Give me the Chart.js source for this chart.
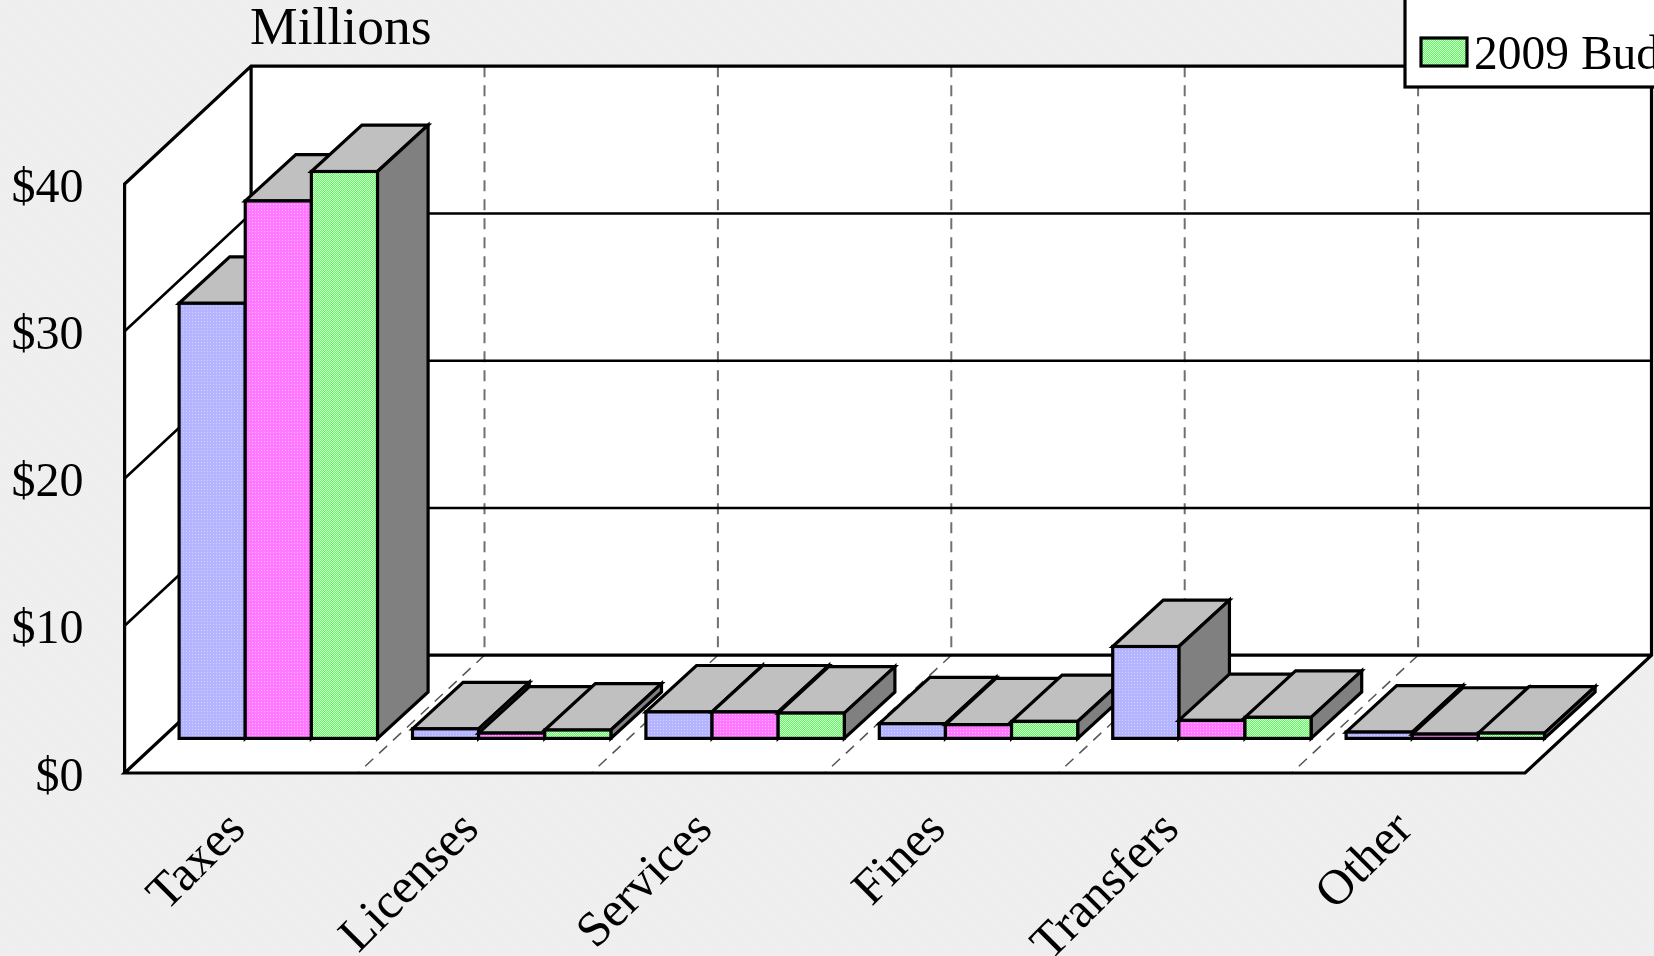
<!DOCTYPE html>
<html><head><meta charset="utf-8">
<style>html,body{margin:0;padding:0;background:#eeeeee;overflow:hidden}canvas{display:block}</style>
<script src="https://cdn.jsdelivr.net/npm/chart.js@4"></script>
</head><body><canvas id="c" width="1654" height="956"></canvas>
<script>
const categories = ["Taxes","Licenses","Services","Fines","Transfers","Other"];
const series1 = [29.55,0.65,1.8,1.0,6.24,0.43];
const series2 = [36.5,0.36,1.8,0.93,1.22,0.29];
const series3 = [38.5,0.57,1.72,1.15,1.43,0.36];
const seriesNames = ["2007 Actual","2008 Budget","2009 Budget"];
const yTicks = [0,10,20,30,40];
const yTickLabels = ["$0","$10","$20","$30","$40"];
const yAxisTitle = "Millions";

function dither(base,dot,size,cells){
  const c=document.createElement('canvas');c.width=c.height=size;
  const x=c.getContext('2d');x.fillStyle=base;x.fillRect(0,0,size,size);
  x.fillStyle=dot;cells.forEach(p=>x.fillRect(p[0],p[1],1,1));
  return x.createPattern(c,'repeat');
}
const bgFill=dither('#ececec','#f4f4f4',3,[[0,0],[1,1],[2,2]]);
const fills=[
  dither('#b4b4ff','#d0d0ff',3,[[0,0]]),
  dither('#ff78ff','#ffb8ff',3,[[0,0]]),
  dither('#58ff58','#d8ffd8',2,[[0,0],[1,1]])
];
const SERIF='"Liberation Serif","Times New Roman",serif';
// depth geometry (pixels)
const frontDX=-37, frontDY=34.6, backDX=89.5, backDY=-83.2, barDX=50.6, barDY=-46.4;

const chart3d={
  id:'chart3d',
  beforeDraw(chart){
    const c=chart.ctx;c.save();c.fillStyle=bgFill;c.fillRect(0,0,chart.width,chart.height);c.restore();
  },
  beforeDatasetsDraw(chart){
    const c=chart.ctx,xs=chart.scales.x,ys=chart.scales.y,a=chart.chartArea;
    const y0=ys.getPixelForValue(0),yT=ys.getPixelForValue(yTicks[yTicks.length-1]);
    const L=a.left,R=a.right;
    const catW=(R-L)/categories.length;
    c.save();c.lineJoin='miter';c.lineCap='butt';
    const poly=(pts)=>{c.beginPath();pts.forEach((p,i)=>i?c.lineTo(p[0],p[1]):c.moveTo(p[0],p[1]));c.closePath();};
    c.fillStyle='#fff';
    poly([[L+backDX,yT+backDY],[R+backDX,yT+backDY],[R+backDX,y0+backDY],[L+backDX,y0+backDY]]);c.fill();
    poly([[L+frontDX,yT+frontDY],[L+backDX,yT+backDY],[L+backDX,y0+backDY],[L+frontDX,y0+frontDY]]);c.fill();
    poly([[L+frontDX,y0+frontDY],[R+frontDX,y0+frontDY],[R+backDX,y0+backDY],[L+backDX,y0+backDY]]);c.fill();
    // category dashes
    for(let i=1;i<categories.length;i++){
      const x=xs.getPixelForValue(i)-catW/2;
      c.setLineDash([11,8]);
      c.strokeStyle='#707070';c.lineWidth=2;
      c.beginPath();c.moveTo(x+backDX,yT+backDY);c.lineTo(x+backDX,y0+backDY);c.stroke();
      c.strokeStyle='#555555';c.lineWidth=1.5;
      c.beginPath();c.moveTo(x+backDX,y0+backDY);c.lineTo(x+frontDX,y0+frontDY);c.stroke();
    }
    c.setLineDash([]);
    // value gridlines
    c.strokeStyle='#000';c.lineWidth=2.6;
    yTicks.forEach(v=>{
      if(v===0||v===yTicks[yTicks.length-1])return;
      const y=ys.getPixelForValue(v);
      c.beginPath();c.moveTo(L+frontDX,y+frontDY);c.lineTo(L+backDX,y+backDY);c.lineTo(R+backDX,y+backDY);c.stroke();
    });
    // outlines
    c.lineWidth=3.2;
    c.beginPath();c.moveTo(L+frontDX,y0+frontDY);c.lineTo(L+frontDX,yT+frontDY);c.lineTo(L+backDX,yT+backDY);
    c.lineTo(R+backDX,yT+backDY);c.lineTo(R+backDX,y0+backDY);c.lineTo(R+frontDX,y0+frontDY);c.lineTo(L+frontDX,y0+frontDY);
    c.lineTo(L+backDX,y0+backDY);c.lineTo(R+backDX,y0+backDY);
    c.moveTo(L+backDX,yT+backDY);c.lineTo(L+backDX,y0+backDY);c.stroke();
    // bars left to right
    const metas=chart.getSortedVisibleDatasetMetas().slice().sort((p,q)=>p.index-q.index);
    categories.forEach((_,i)=>{
      metas.forEach(m=>{
        const el=m.data[i],l=el.x-el.width/2,r=el.x+el.width/2,t=el.y,b=el.base;
        c.lineWidth=3.2;c.strokeStyle='#000';c.lineJoin='miter';
        poly([[l,t],[l+barDX,t+barDY],[r+barDX,t+barDY],[r,t]]);c.fillStyle='#c0c0c0';c.fill();c.stroke();
        poly([[r,t],[r+barDX,t+barDY],[r+barDX,b+barDY],[r,b]]);c.fillStyle='#808080';c.fill();c.stroke();
        el.draw(c);
        c.strokeRect(l,t,r-l,b-t);
      });
    });
    c.restore();
  },
  beforeDatasetDraw(){return false;},
  afterDraw(chart){
    const c=chart.ctx,xs=chart.scales.x,ys=chart.scales.y,a=chart.chartArea;
    c.save();c.fillStyle='#000';
    // y labels
    c.font='48px '+SERIF;c.textAlign='right';c.textBaseline='alphabetic';
    yTicks.forEach((v,i)=>c.fillText(yTickLabels[i],83.5,ys.getPixelForValue(v)+frontDY+17.5));
    // title
    c.textAlign='left';c.font='53.5px '+SERIF;
    c.fillText(yAxisTitle,a.left+backDX-1,44);
    // x labels
    c.font='49.5px '+SERIF;c.textAlign='right';c.textBaseline='middle';
    categories.forEach((t,i)=>{
      c.save();c.translate(xs.getPixelForValue(i)+frontDX-3,822);c.rotate(-Math.PI/4);c.fillText(t,0,0);c.restore();
    });
    // legend (box runs past the top and right edges of the picture)
    c.fillStyle='#fff';c.strokeStyle='#000';c.lineWidth=3.2;
    c.fillRect(1405,-10,300,97);c.strokeRect(1405,-10,300,97);
    c.fillStyle=fills[2];c.fillRect(1421,38,46,28);c.strokeRect(1421,38,46,28);
    c.fillStyle='#000';c.font='47.5px '+SERIF;c.textAlign='left';c.textBaseline='alphabetic';
    c.fillText(seriesNames[2],1474,69);
    c.restore();
  }
};

new Chart(document.getElementById('c'),{
  type:'bar',
  data:{labels:categories,datasets:[
    {label:seriesNames[0],data:series1,backgroundColor:fills[0]},
    {label:seriesNames[1],data:series2,backgroundColor:fills[1]},
    {label:seriesNames[2],data:series3,backgroundColor:fills[2]}
  ]},
  options:{
    responsive:false,animation:false,devicePixelRatio:1,
    layout:{padding:{left:161.6,right:92,top:149.4,bottom:217.6}},
    datasets:{bar:{categoryPercentage:0.85,barPercentage:1,borderWidth:0}},
    plugins:{legend:{display:false},title:{display:false},tooltip:{enabled:false}},
    scales:{
      x:{display:false,offset:true},
      y:{display:false,min:0,max:40,ticks:{stepSize:10}}
    }
  },
  plugins:[chart3d]
});
</script></body></html>
